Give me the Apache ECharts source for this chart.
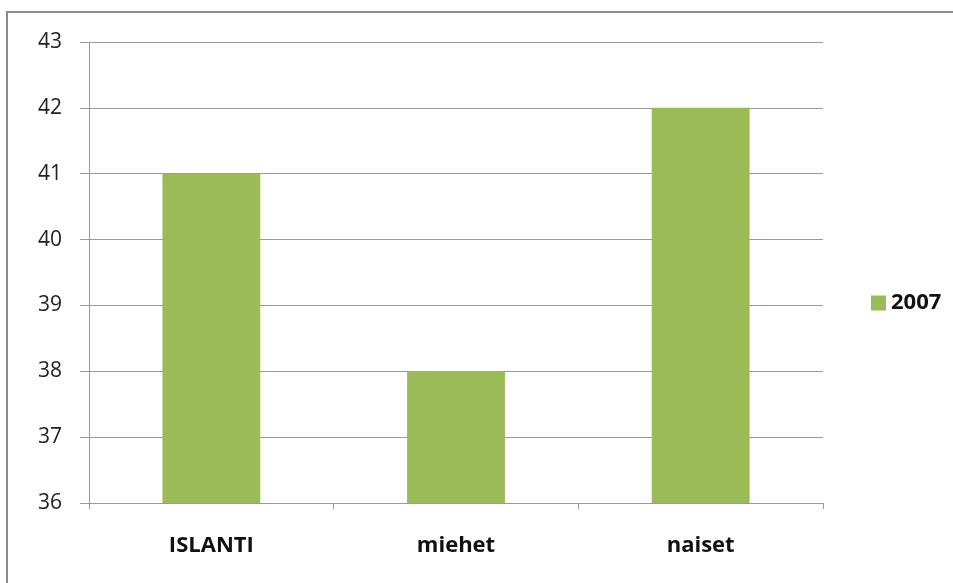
<!DOCTYPE html>
<html><head><meta charset="utf-8">
<script src="https://cdn.jsdelivr.net/npm/echarts@6/dist/echarts.min.js"></script>
<style>html,body{margin:0;padding:0;background:#fff}#c{width:953px;height:583px}</style>
</head><body><div id="c"></div>
<script>
const categories = ['ISLANTI', 'miehet', 'naiset'];
const values2007 = [41, 38, 42];
const seriesName = '2007';
const chart = echarts.init(document.getElementById('c'), null, {renderer: 'canvas'});
chart.setOption({
  animation: false,
  backgroundColor: '#fff',
  graphic: [{type: 'rect', shape: {x: 7, y: 12, width: 960, height: 600}, style: {fill: 'none', stroke: '#8c8c8c', lineWidth: 2}, silent: true}],
  grid: {left: 89, right: 130, top: 42, bottom: 80},
  legend: {
    data: [seriesName], orient: 'vertical', left: 866, top: 287,
    itemWidth: 15, itemHeight: 15, itemGap: 8,
    icon: 'rect',
    textStyle: {fontFamily: 'Open Sans', fontWeight: 'bold', fontSize: 22, color: '#111'}
  },
  xAxis: {
    type: 'category', data: categories,
    axisLine: {lineStyle: {color: '#9a9a9a', width: 1}},
    axisTick: {show: true, alignWithLabel: false, length: 6, lineStyle: {color: '#9a9a9a'}},
    axisLabel: {margin: 32, fontFamily: 'Open Sans', fontWeight: 'bold', fontSize: 22, color: '#111'}
  },
  yAxis: {
    type: 'value', min: 36, max: 43, interval: 1,
    axisLine: {show: true, lineStyle: {color: '#9a9a9a', width: 1}},
    axisTick: {show: true, length: 9, lineStyle: {color: '#9a9a9a'}},
    splitLine: {lineStyle: {color: '#9a9a9a', width: 1}},
    axisLabel: {margin: 27, fontFamily: 'Open Sans', fontSize: 21, color: '#222'}
  },
  series: [{
    name: seriesName, type: 'bar', data: values2007, barWidth: '40%',
    itemStyle: {color: '#9bbb59'}
  }]
});
</script></body></html>
